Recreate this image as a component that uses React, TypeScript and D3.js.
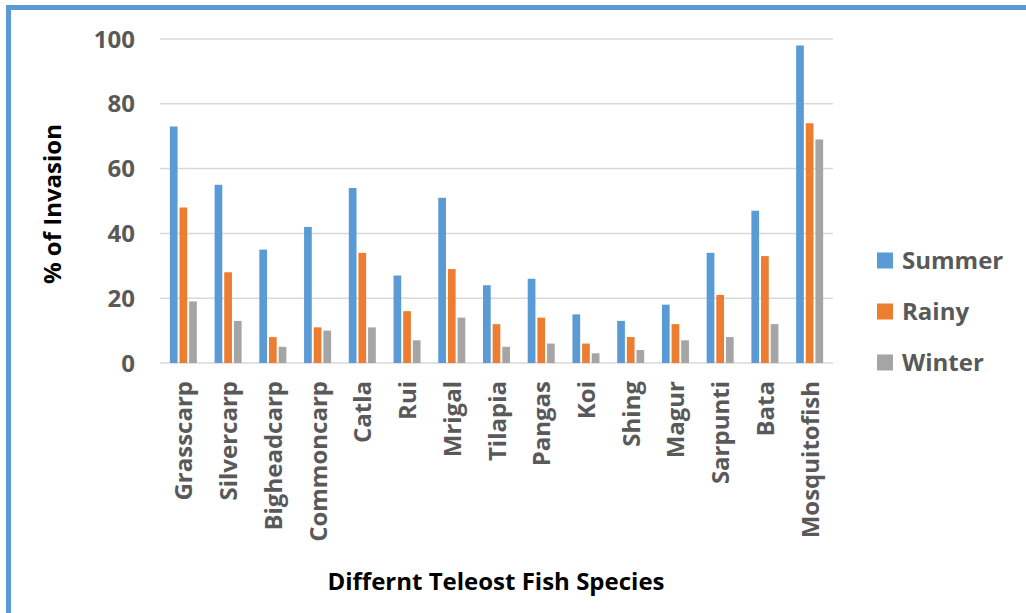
import React from 'react'
import * as d3 from 'd3'

const categories = ['Grasscarp', 'Silvercarp', 'Bigheadcarp', 'Commoncarp', 'Catla', 'Rui', 'Mrigal', 'Tilapia', 'Pangas', 'Koi', 'Shing', 'Magur', 'Sarpunti', 'Bata', 'Mosquitofish']
const seriesNames = ['Summer', 'Rainy', 'Winter']
const summer = [73, 55, 35, 42, 54, 27, 51, 24, 26, 15, 13, 18, 34, 47, 98]
const rainy = [48, 28, 8, 11, 34, 16, 29, 12, 14, 6, 8, 12, 21, 33, 74]
const winter = [19, 13, 5, 10, 11, 7, 14, 5, 6, 3, 4, 7, 8, 12, 69]
const yTicks = [0, 20, 40, 60, 80, 100]
const colors = ['#5b9bd5', '#ed7d31', '#a5a5a5']

const W = 1026
const H = 613
const font = '"Open Sans", Lato, sans-serif'

export default function App() {
  const values = [summer, rainy, winter]

  const x0 = d3.scaleBand().domain(categories).range([161, 832]).paddingInner(0.396).paddingOuter(0.198)
  const x1 = d3.scaleBand().domain(seriesNames).range([0, x0.bandwidth()]).paddingInner(0.2)
  const y = d3.scaleLinear().domain([0, 100]).range([363, 39])

  const bars = categories.map(function (c, i) {
    return seriesNames.map(function (s, j) {
      const v = values[j][i]
      return (
        <rect key={c + s}
          x={x0(c) + x1(s)}
          y={y(v)}
          width={x1.bandwidth()}
          height={y(0) - y(v)}
          fill={colors[j]} />
      )
    })
  })

  return (
    <svg width={W} height={H} style={{ position: 'absolute', left: 0, top: 0, background: '#fff' }} fontFamily={font}>
      {/* frame */}
      <rect x={6} y={5} width={W} height={5} fill="#5b9bd5" />
      <rect x={6} y={5} width={5} height={H} fill="#5b9bd5" />

      {/* grid + y ticks */}
      {yTicks.map(t => (
        <g key={t}>
          <line x1={160} x2={833} y1={y(t)} y2={y(t)} stroke="#d9d9d9" strokeWidth={1.5} />
          <text x={135} y={y(t)} dy="0.36em" textAnchor="end" fontSize={24} fontWeight="bold" fill="#595959">{t}</text>
        </g>
      ))}

      {bars}

      {/* x labels */}
      {categories.map(c => (
        <text key={c} transform={`translate(${x0(c) + x0.bandwidth() / 2 + 9},381) rotate(-90)`}
          textAnchor="end" fontSize={24} fontWeight="bold" fill="#595959">{c}</text>
      ))}

      {/* axis titles */}
      <text transform="translate(61,204) rotate(-90)" textAnchor="middle" fontSize={24} fontWeight="bold" fill="#000">% of Invasion</text>
      <text x={496} y={590} textAnchor="middle" fontSize={24} fontWeight="bold" fill="#000">Differnt Teleost Fish Species</text>

      {/* legend */}
      {seriesNames.map((s, j) => (
        <g key={s} transform={`translate(877,${260.5 + j * 51})`}>
          <rect x={0} y={-8} width={16} height={16} fill={colors[j]} />
          <text x={25} y={0} dy="0.36em" fontSize={24} fontWeight="bold" fill="#595959">{s}</text>
        </g>
      ))}
    </svg>
  )
}
